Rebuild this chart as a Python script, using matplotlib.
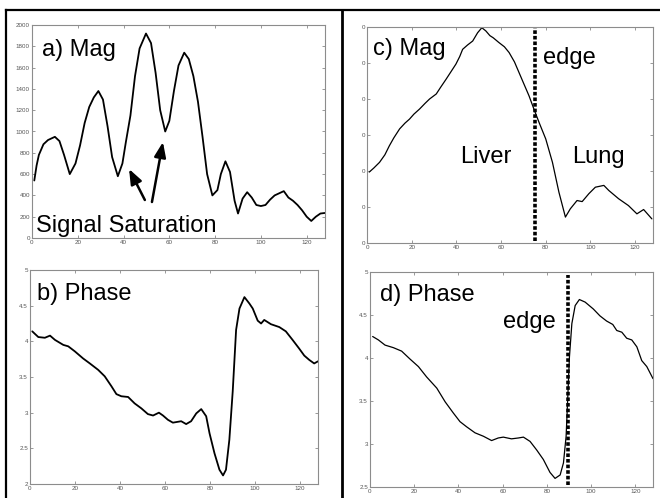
import matplotlib
matplotlib.use("Agg")
import matplotlib.pyplot as plt
from matplotlib.lines import Line2D

plt.rcParams['font.family'] = ['Liberation Sans', 'DejaVu Sans']

# a) magnitude with signal saturation
mag_a_x = [1, 2, 3, 5, 7, 10, 12, 14, 16.5, 19, 21, 23, 25, 27, 29, 31, 33, 35, 37.5, 39.5, 41,
           43, 45, 47, 49.8, 52, 54, 56, 58.2, 60, 62, 64, 66.5, 68.5, 70.5, 72.5, 74.5, 76.5,
           78.8, 81, 82.5, 84.5, 86.5, 88.5, 90, 92, 94, 96, 98, 100, 102, 104, 106, 108, 110,
           112, 114, 116, 118, 120, 122, 124, 126, 128]
mag_a_y = [540, 680, 780, 880, 920, 950, 910, 780, 600, 700, 870, 1080, 1230, 1320, 1380, 1300,
           1050, 760, 580, 700, 900, 1150, 1520, 1780, 1920, 1830, 1550, 1200, 1000, 1100, 1380,
           1620, 1740, 1680, 1520, 1280, 950, 600, 400, 450, 600, 720, 620, 350, 230, 370, 430,
           380, 310, 300, 310, 360, 400, 420, 440, 380, 350, 310, 260, 200, 160, 200, 230, 235]

# b) phase
phase_b_x = [1, 2, 3.7, 6.6, 8.9, 11.1, 14.8, 17, 19.9, 23.6, 26.6, 30.3, 33.2, 36.2, 38.4, 40.6,
             43.6, 46.5, 49.5, 52.4, 54.7, 57.3, 59.1, 61.3, 63.5, 67.2, 69.4, 71.6, 73.9, 76.1,
             78.3, 79.8, 82, 84.2, 85.8, 87.1, 88.6, 90.1, 91.6, 93.1, 95.3, 97.5, 99, 101.2,
             102.7, 104.1, 107.1, 110.8, 113.7, 116.7, 119.6, 121.9, 124.1, 126.3, 128]
phase_b_y = [4.14, 4.11, 4.06, 4.05, 4.08, 4.02, 3.95, 3.93, 3.86, 3.76, 3.69, 3.60, 3.51, 3.37,
             3.26, 3.23, 3.22, 3.13, 3.06, 2.98, 2.96, 3.00, 2.96, 2.90, 2.86, 2.88, 2.84, 2.88,
             2.99, 3.05, 2.95, 2.71, 2.43, 2.20, 2.12, 2.20, 2.62, 3.30, 4.16, 4.46, 4.62, 4.53,
             4.46, 4.29, 4.25, 4.30, 4.24, 4.20, 4.14, 4.02, 3.90, 3.80, 3.74, 3.69, 3.72]

# c) magnitude, liver / lung
mag_c_x = [1, 3, 5.6, 8, 10, 12, 14.6, 17, 19, 21, 23.5, 26, 28, 31, 33, 35.4, 37.5, 39.8, 41.5,
           42.8, 45, 47.3, 49.5, 51.4, 53.2, 55, 56.5, 59, 61.5, 63.6, 66, 68, 70, 72.5, 74.7,
           77, 80, 83, 85.9, 88.8, 91, 94, 96.3, 99.3, 102.2, 106, 108.2, 112.6, 117, 120.8,
           123.8, 127.5]
mag_c_y = [1.97, 2.08, 2.24, 2.45, 2.70, 2.92, 3.17, 3.33, 3.44, 3.58, 3.72, 3.88, 4.00, 4.14,
           4.33, 4.55, 4.75, 4.97, 5.18, 5.38, 5.50, 5.61, 5.84, 5.98, 5.89, 5.76, 5.70, 5.57,
           5.45, 5.29, 5.03, 4.74, 4.45, 4.09, 3.72, 3.35, 2.89, 2.24, 1.41, 0.72, 0.95, 1.18,
           1.15, 1.37, 1.55, 1.60, 1.46, 1.23, 1.04, 0.81, 0.93, 0.67]

# d) phase with edge
phase_d_x = [1.2, 3.8, 6.8, 10.6, 14.3, 18, 21.9, 25.6, 30.2, 34, 37.7, 40.7, 43.7, 47.5, 51.3,
             55, 58, 60.3, 64, 67.1, 69.4, 72.4, 75.4, 78.4, 81.4, 83.7, 86, 87.5, 88.7, 89.4,
             90.2, 91.3, 92.8, 94.7, 97.3, 101, 104, 107, 109.8, 111.6, 113.9, 116.1, 118.4,
             120.7, 122.9, 125.2, 128]
phase_d_y = [4.25, 4.21, 4.15, 4.12, 4.08, 3.99, 3.90, 3.78, 3.65, 3.49, 3.36, 3.26, 3.20, 3.13,
             3.09, 3.04, 3.07, 3.08, 3.06, 3.07, 3.08, 3.03, 2.93, 2.82, 2.67, 2.60, 2.64, 2.78,
             3.09, 3.51, 4.01, 4.40, 4.61, 4.68, 4.65, 4.57, 4.49, 4.43, 4.39, 4.32, 4.30, 4.23,
             4.21, 4.13, 3.97, 3.90, 3.76]

edge_c = 75
edge_d = 89.4

xticks = [0, 20, 40, 60, 80, 100, 120]

fig = plt.figure(figsize=(6.6, 4.98), dpi=100)

W, H = 660, 498
def box(l, t, r, b):
    return [l / W, 1 - b / H, (r - l) / W, (b - t) / H]

ax_a = fig.add_axes(box(32, 25, 325, 238))
ax_b = fig.add_axes(box(30, 270, 318, 484))
ax_c = fig.add_axes(box(367, 27, 653, 243))
ax_d = fig.add_axes(box(370, 272, 653, 487))

for ax in [ax_a, ax_b, ax_c, ax_d]:
    ax.set_xlim(0, 128)
    ax.set_xticks(xticks)
    ax.tick_params(direction='in', length=2.2, width=0.6, color='#888888',
                   labelsize=4.5, labelcolor='#555555', pad=1.5, top=True, right=True)
    for s in ax.spines.values():
        s.set_color('#8c8c8c')
        s.set_linewidth(0.8)

line = dict(color='black', solid_joinstyle='round', solid_capstyle='round')
ax_a.plot(mag_a_x, mag_a_y, lw=1.3, **line)
ax_a.set_ylim(0, 2000)
ax_a.set_yticks(range(0, 2001, 200))

ax_b.plot(phase_b_x, phase_b_y, lw=1.3, **line)
ax_b.set_ylim(2, 5)
ax_b.set_yticks([2, 2.5, 3, 3.5, 4, 4.5, 5])
ax_b.set_yticklabels(['2', '2.5', '3', '3.5', '4', '4.5', '5'])

ax_c.plot(mag_c_x, mag_c_y, lw=0.9, **line)
ax_c.set_ylim(0, 6)
ax_c.set_yticks(range(7))
ax_c.set_yticklabels(['0'] * 7)
ax_c.axvline(edge_c, ymin=0.01, ymax=0.995, color='black', lw=2.6,
             dashes=(1, 0.55), dash_capstyle='butt')

ax_d.plot(phase_d_x, phase_d_y, lw=0.9, **line)
ax_d.set_ylim(2.5, 5)
ax_d.set_yticks([2.5, 3, 3.5, 4, 4.5, 5])
ax_d.set_yticklabels(['2.5', '3', '3.5', '4', '4.5', '5'])
ax_d.axvline(edge_d, ymin=0.01, ymax=0.985, color='black', lw=2.6,
             dashes=(1, 0.55), dash_capstyle='butt')

fs = 17
ax_a.text(0.034, 0.855, 'a) Mag', transform=ax_a.transAxes, fontsize=fs, va='baseline')
ax_a.text(0.014, 0.03, 'Signal Saturation', transform=ax_a.transAxes, fontsize=fs, va='baseline')
ax_b.text(0.024, 0.86, 'b) Phase', transform=ax_b.transAxes, fontsize=fs, va='baseline')
ax_c.text(0.021, 0.87, 'c) Mag', transform=ax_c.transAxes, fontsize=fs, va='baseline')
ax_c.text(0.616, 0.829, 'edge', transform=ax_c.transAxes, fontsize=fs, va='baseline')
ax_c.text(0.325, 0.369, 'Liver', transform=ax_c.transAxes, fontsize=fs, va='baseline')
ax_c.text(0.716, 0.369, 'Lung', transform=ax_c.transAxes, fontsize=fs, va='baseline')
ax_d.text(0.035, 0.865, 'd) Phase', transform=ax_d.transAxes, fontsize=fs, va='baseline')
ax_d.text(0.471, 0.741, 'edge', transform=ax_d.transAxes, fontsize=fs, va='baseline')

arrow = dict(arrowstyle='-|>,head_length=0.9,head_width=0.35', color='black', lw=1.8,
             shrinkA=0, shrinkB=0)
ax_a.annotate('', xy=(42.4, 648), xytext=(49.3, 357), arrowprops=arrow)
ax_a.annotate('', xy=(57.2, 901), xytext=(52.4, 338), arrowprops=arrow)

# outer frame and divider
fig.add_artist(Line2D([6 / W, 1], [1 - 10 / H, 1 - 10 / H], color='black', lw=1.6,
                      transform=fig.transFigure))
fig.add_artist(Line2D([6 / W, 6 / W], [0, 1 - 10 / H], color='black', lw=1.6,
                      transform=fig.transFigure))
fig.add_artist(Line2D([342 / W, 342 / W], [0, 1 - 10 / H], color='black', lw=2.0,
                      transform=fig.transFigure))

fig.savefig('out.png', dpi=100)
